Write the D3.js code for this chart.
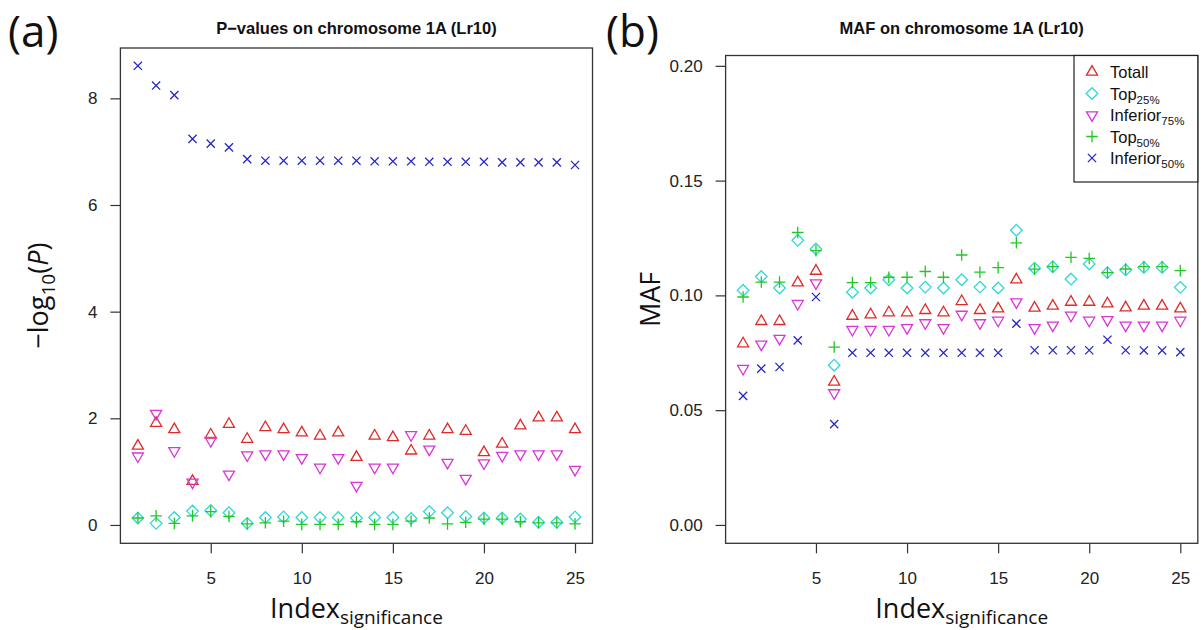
<!DOCTYPE html>
<html>
<head>
<meta charset="utf-8">
<script src="https://cdn.jsdelivr.net/npm/d3@7"></script>
<style>
  body { margin: 0; background: #fff; }
  svg { display: block; }
</style>
</head>
<body>
<svg id="chart" width="1201" height="630"></svg>
<script>
// Index of significance (x categories)
const indexSig = [1, 2, 3, 4, 5, 6, 7, 8, 9, 10, 11, 12, 13, 14, 15, 16, 17, 18, 19, 20, 21, 22, 23, 24, 25];

// Panel (a): -log10(P)
const pTotall     = [1.48, 1.91, 1.79, 0.82, 1.69, 1.89, 1.61, 1.83, 1.79, 1.73, 1.67, 1.73, 1.27, 1.67, 1.64, 1.39, 1.67, 1.79, 1.76, 1.36, 1.52, 1.86, 2.01, 2.01, 1.79];
const pTop25      = [0.13, 0.03, 0.14, 0.26, 0.27, 0.23, 0.03, 0.14, 0.15, 0.14, 0.14, 0.14, 0.13, 0.14, 0.14, 0.12, 0.25, 0.23, 0.16, 0.13, 0.13, 0.11, 0.05, 0.05, 0.15];
const pInferior75 = [1.29, 2.09, 1.39, 0.80, 1.58, 0.95, 1.31, 1.33, 1.33, 1.26, 1.08, 1.26, 0.74, 1.08, 1.08, 1.69, 1.42, 1.17, 0.87, 1.16, 1.30, 1.33, 1.33, 1.33, 1.04];
const pTop50      = [0.13, 0.17, 0.03, 0.17, 0.25, 0.16, 0.02, 0.04, 0.07, 0.01, 0.01, 0.01, 0.06, 0.01, 0.01, 0.07, 0.13, 0.02, 0.05, 0.11, 0.11, 0.06, 0.04, 0.04, 0.02];
const pInferior50 = [8.61, 8.24, 8.06, 7.24, 7.15, 7.08, 6.86, 6.83, 6.83, 6.83, 6.83, 6.83, 6.83, 6.82, 6.82, 6.82, 6.81, 6.81, 6.81, 6.81, 6.80, 6.80, 6.80, 6.80, 6.75];

// Panel (b): minor allele frequency
const mafTotall     = [0.0790, 0.0887, 0.0887, 0.1055, 0.1106, 0.0623, 0.0910, 0.0916, 0.0925, 0.0925, 0.0935, 0.0925, 0.0974, 0.0935, 0.0942, 0.1068, 0.0945, 0.0954, 0.0971, 0.0971, 0.0964, 0.0946, 0.0954, 0.0954, 0.0942];
const mafTop25      = [0.1022, 0.1082, 0.1032, 0.1240, 0.1202, 0.0696, 0.1014, 0.1032, 0.1068, 0.1032, 0.1036, 0.1032, 0.1068, 0.1036, 0.1032, 0.1284, 0.1118, 0.1125, 0.1071, 0.1137, 0.1099, 0.1111, 0.1122, 0.1122, 0.1035];
const mafInferior75 = [0.0681, 0.0787, 0.0812, 0.0964, 0.1054, 0.0575, 0.0851, 0.0851, 0.0851, 0.0859, 0.0880, 0.0859, 0.0917, 0.0880, 0.0891, 0.0971, 0.0859, 0.0870, 0.0913, 0.0891, 0.0894, 0.0870, 0.0870, 0.0870, 0.0891];
const mafTop50      = [0.0993, 0.1058, 0.1058, 0.1274, 0.1195, 0.0775, 0.1056, 0.1056, 0.1079, 0.1079, 0.1104, 0.1079, 0.1176, 0.1101, 0.1121, 0.1229, 0.1114, 0.1125, 0.1166, 0.1161, 0.1099, 0.1115, 0.1125, 0.1125, 0.1108];
const mafInferior50 = [0.0562, 0.0681, 0.0688, 0.0804, 0.0993, 0.0439, 0.0750, 0.0750, 0.0750, 0.0750, 0.0750, 0.0750, 0.0750, 0.0750, 0.0750, 0.0877, 0.0761, 0.0761, 0.0761, 0.0761, 0.0807, 0.0761, 0.0760, 0.0760, 0.0753];

// Series labels (base text + subscript) and tick labels
const seriesBase = ["Totall", "Top", "Inferior", "Top", "Inferior"];
const seriesSub  = ["", "25%", "75%", "50%", "50%"];
const xTicks  = [5, 10, 15, 20, 25];
const yTicksP = [0, 2, 4, 6, 8];
const yTicksMAF = [0, 0.05, 0.10, 0.15, 0.20];

const colors = ["#e02a2a", "#2ed8d8", "#d836d8", "#22c822", "#2626c8"];
const shapes = ["triUp", "diamond", "triDown", "plus", "cross"];

// R-like plotting symbols
const S = 4.1;
function symbolPath(kind) {
  const r = 1.555 * S, d = 1.414 * S, h = 0.866 * r;
  switch (kind) {
    case "triUp":   return `M0,${-r}L${h},${r / 2}L${-h},${r / 2}Z`;
    case "triDown": return `M0,${r}L${h},${-r / 2}L${-h},${-r / 2}Z`;
    case "diamond": return `M0,${-d}L${d},0L0,${d}L${-d},0Z`;
    case "plus":    return `M${-d},0H${d}M0,${-d}V${d}`;
    case "cross":   return `M${-S},${-S}L${S},${S}M${-S},${S}L${S},${-S}`;
  }
}

const svg = d3.select("#chart");
const tickFont = "'Liberation Sans', Arial, sans-serif";
const labelFont = "'Open Sans', 'Noto Sans', sans-serif";

function drawPanel(cfg) {
  const g = svg.append("g");
  const x = d3.scaleLinear().domain([0.04, 25.96]).range([cfg.left, cfg.right]);
  const y = d3.scaleLinear().domain(cfg.yDomain).range([cfg.bottom, cfg.top]);

  // points
  cfg.series.forEach((vals, k) => {
    g.append("g").selectAll("path")
      .data(vals)
      .join("path")
      .attr("transform", (v, i) => `translate(${x(indexSig[i])},${y(v)})`)
      .attr("d", symbolPath(shapes[k]))
      .attr("fill", "none")
      .attr("stroke", colors[k])
      .attr("stroke-width", 1.3);
  });

  // axes
  const xa = g.append("g")
    .attr("transform", `translate(0,${cfg.bottom})`)
    .call(d3.axisBottom(x).tickValues(xTicks).tickSize(10).tickPadding(19).tickFormat(d3.format("d")));
  const ya = g.append("g")
    .attr("transform", `translate(${cfg.left},0)`)
    .call(d3.axisLeft(y).tickValues(cfg.yTicks).tickSize(10).tickPadding(13).tickFormat(cfg.yFmt));
  [xa, ya].forEach(a => {
    a.select(".domain").remove();
    a.selectAll(".tick line").attr("stroke", "#333").attr("stroke-width", 1.2);
    a.selectAll(".tick text").attr("fill", "#222").style("font-family", tickFont).style("font-size", "17px");
  });

  // frame
  g.append("rect")
    .attr("x", cfg.left).attr("y", cfg.top)
    .attr("width", cfg.right - cfg.left).attr("height", cfg.bottom - cfg.top)
    .attr("fill", "none").attr("stroke", "#333").attr("stroke-width", 1.3);

  // title
  g.append("text")
    .attr("x", (cfg.left + cfg.right) / 2).attr("y", 34)
    .attr("text-anchor", "middle")
    .style("font-family", tickFont).style("font-weight", "bold").style("font-size", "16.5px")
    .attr("fill", "#111")
    .text(cfg.title);

  // panel letter
  g.append("text")
    .attr("x", cfg.letterX).attr("y", 47)
    .style("font-family", labelFont).style("font-size", "44px").attr("fill", "#111")
    .text(cfg.letter);

  // x axis title
  const xt = g.append("text")
    .attr("x", (cfg.left + cfg.right) / 2).attr("y", 618)
    .attr("text-anchor", "middle")
    .style("font-family", labelFont).attr("fill", "#111");
  xt.append("tspan").style("font-size", "27px").text("Index");
  xt.append("tspan").style("font-size", "19px").attr("dy", 6).text("significance");

  // y axis title
  const cy = (cfg.top + cfg.bottom) / 2;
  const yt = g.append("text")
    .attr("transform", `translate(${cfg.yTitleX},${cy}) rotate(-90)`)
    .attr("text-anchor", "middle")
    .style("font-family", labelFont).style("font-size", "27px").attr("fill", "#111");
  cfg.yTitle(yt);

  return { x, y, g };
}

drawPanel({
  left: 120.4, right: 592.5, top: 48, bottom: 543.3,
  yDomain: [-0.344, 8.944], yTicks: yTicksP, yFmt: d3.format("d"),
  series: [pTotall, pTop25, pInferior75, pTop50, pInferior50],
  title: "P\u2212values on chromosome 1A (Lr10)",
  letter: "(a)", letterX: 8, yTitleX: 48,
  yTitle: t => {
    t.append("tspan").text("\u2212log");
    t.append("tspan").style("font-size", "19px").attr("dy", 7).text("10");
    t.append("tspan").attr("dy", -7).text("(");
    t.append("tspan").style("font-style", "italic").text("P");
    t.append("tspan").text(")");
  }
});

drawPanel({
  left: 725.6, right: 1197.8, top: 55.5, bottom: 543.3,
  yDomain: [-0.008, 0.2045], yTicks: yTicksMAF, yFmt: d3.format(".2f"),
  series: [mafTotall, mafTop25, mafInferior75, mafTop50, mafInferior50],
  title: "MAF on chromosome 1A (Lr10)",
  letter: "(b)", letterX: 606, yTitleX: 660,
  yTitle: t => t.text("MAF")
});

// legend
const lg = svg.append("g");
lg.append("rect")
  .attr("x", 1074).attr("y", 55.5).attr("width", 1197.8 - 1074).attr("height", 182 - 55.5)
  .attr("fill", "#fff").attr("stroke", "#222").attr("stroke-width", 1.2);
seriesBase.forEach((name, k) => {
  const ly = 72 + k * 21.5;
  lg.append("path")
    .attr("transform", `translate(1092,${ly})`)
    .attr("d", symbolPath(shapes[k]))
    .attr("fill", "none").attr("stroke", colors[k]).attr("stroke-width", 1.3);
  const t = lg.append("text")
    .attr("x", 1110).attr("y", ly + 6)
    .style("font-family", tickFont).style("font-size", "16.5px").attr("fill", "#111");
  t.append("tspan").text(name);
  if (seriesSub[k]) t.append("tspan").style("font-size", "11.5px").attr("dy", 4).text(seriesSub[k]);
});
</script>
</body>
</html>
